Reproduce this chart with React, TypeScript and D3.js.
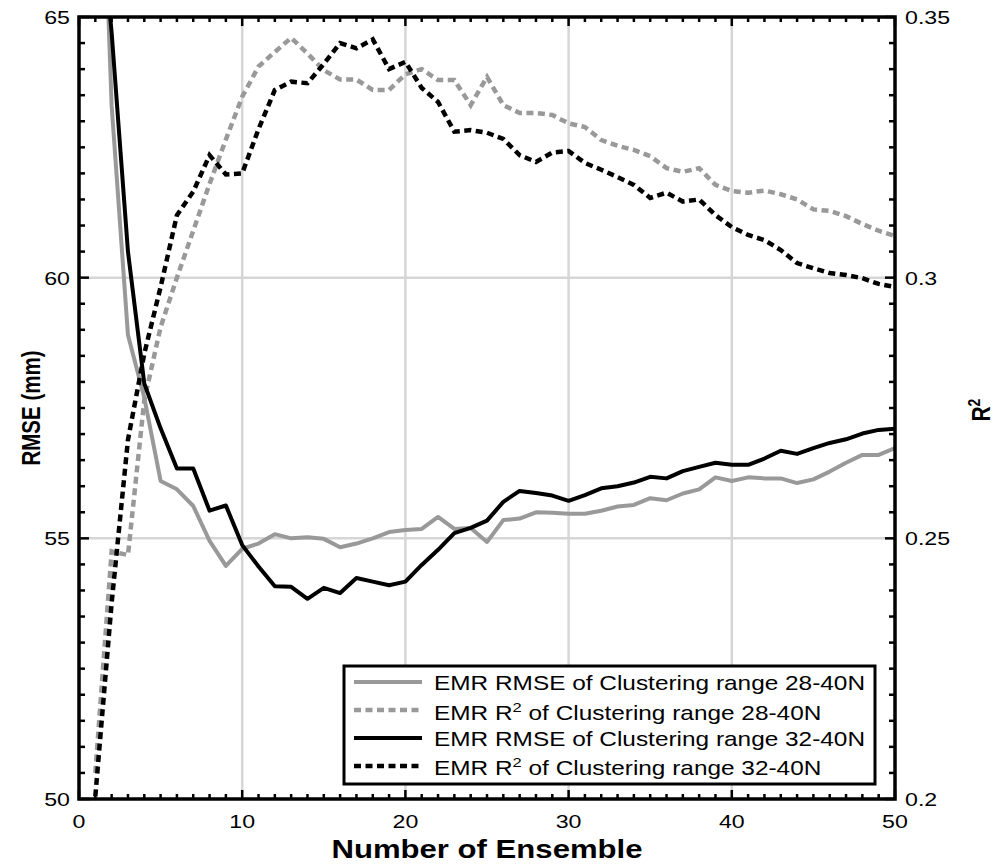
import React from 'react';
import * as d3 from 'd3';

const ensemble = [1,2,3,4,5,6,7,8,9,10,11,12,13,14,15,16,17,18,19,20,21,22,23,24,25,26,27,28,29,30,31,32,33,34,35,36,37,38,39,40,41,42,43,44,45,46,47,48,49,50];

const rmse28 = [72,63.3,58.9,57.7,56.1,55.94,55.62,54.95,54.47,54.8,54.9,55.08,55.0,55.02,54.99,54.83,54.9,55.0,55.12,55.16,55.18,55.41,55.18,55.2,54.93,55.35,55.38,55.5,55.49,55.47,55.47,55.53,55.61,55.64,55.77,55.73,55.86,55.94,56.17,56.1,56.17,56.15,56.15,56.06,56.13,56.28,56.45,56.6,56.6,56.73];

const rmse32 = [68,64.7,60.5,57.97,57.11,56.34,56.34,55.53,55.63,54.87,54.46,54.08,54.07,53.84,54.05,53.95,54.24,54.17,54.1,54.17,54.49,54.78,55.1,55.2,55.34,55.7,55.91,55.87,55.82,55.72,55.83,55.96,56.0,56.07,56.18,56.15,56.29,56.37,56.45,56.41,56.41,56.53,56.68,56.62,56.73,56.83,56.9,57.01,57.08,57.1];

const r2_28 = [0.205,0.2475,0.2468,0.2765,0.2905,0.300,0.309,0.318,0.3265,0.3347,0.3405,0.3433,0.346,0.343,0.3398,0.338,0.338,0.336,0.336,0.339,0.340,0.3379,0.3379,0.3331,0.3385,0.3331,0.3316,0.3316,0.3312,0.3296,0.3289,0.3264,0.3253,0.3245,0.3233,0.321,0.3203,0.321,0.3178,0.3166,0.3163,0.3167,0.316,0.315,0.3131,0.3128,0.3118,0.3103,0.309,0.308];

const r2_32 = [0.2005,0.2376,0.2689,0.2854,0.2982,0.312,0.3165,0.3235,0.3198,0.320,0.3285,0.336,0.3376,0.3373,0.341,0.345,0.344,0.3457,0.340,0.3414,0.3364,0.3337,0.328,0.3283,0.3278,0.3266,0.3235,0.3222,0.324,0.3243,0.322,0.3207,0.3193,0.3178,0.3153,0.3163,0.3146,0.315,0.312,0.3097,0.3082,0.3072,0.3053,0.3028,0.3018,0.3009,0.3005,0.2999,0.2988,0.2982];

const xTicks = [0, 10, 20, 30, 40, 50];
const yLeftTicks = [50, 55, 60, 65];
const yRightTicks = [0.2, 0.25, 0.3, 0.35];
const yRightLabels = ['0.2', '0.25', '0.3', '0.35'];

const legendItems = [
  { pre: 'EMR RMSE', sup: '', post: ' of Clustering range 28-40N', color: '#999999', dash: '' },
  { pre: 'EMR R', sup: '2', post: ' of Clustering range 28-40N', color: '#999999', dash: '7 4.5' },
  { pre: 'EMR RMSE', sup: '', post: ' of Clustering range 32-40N', color: '#000000', dash: '' },
  { pre: 'EMR R', sup: '2', post: ' of Clustering range 32-40N', color: '#000000', dash: '7 4.5' },
];

const W = 1000, H = 865;
const L = 79, R = 895, T = 17, B = 799;
const SX = 1.22;
const FONT = '"Liberation Sans", Arial, Helvetica, sans-serif';

const x = d3.scaleLinear().domain([0, 50]).range([L, R]);
const yL = d3.scaleLinear().domain([50, 65]).range([B, T]);
const yR = d3.scaleLinear().domain([0.2, 0.35]).range([B, T]);

function SText(props: any) {
  const { x, y, anchor = 'middle', size = 19, weight = 'normal', rotate = 0, children } = props;
  return (
    <text
      transform={`translate(${x},${y}) scale(${SX},1)${rotate ? ` rotate(${rotate})` : ''}`}
      textAnchor={anchor}
      fontSize={size}
      fontWeight={weight}
      fontFamily={FONT}
      fill="#000"
    >
      {children}
    </text>
  );
}

export default function App() {
  const lineL = d3.line<number>().x((_, i) => x(ensemble[i])).y((d) => yL(d));
  const lineR = d3.line<number>().x((_, i) => x(ensemble[i])).y((d) => yR(d));

  const xMinor = d3.range(0, 51, 1);
  const yMinor = d3.range(50, 65.001, 0.5);

  const lgX = 344, lgY = 666, lgW = 531, lgH = 118;
  const lineRows = [682, 710, 738, 766];
  const textRows = [690, 719.5, 745.5, 775];

  return (
    <svg width={W} height={H} style={{ position: 'absolute', left: 0, top: 0, background: '#fff' }}>
      <defs>
        <clipPath id="plotClip">
          <rect x={L} y={T} width={R - L} height={B - T} />
        </clipPath>
      </defs>
      <rect x={0} y={0} width={W} height={H} fill="#fff" />
      {/* grid */}
      <g stroke="#d6d6d6" strokeWidth={2.5}>
        {xTicks.slice(1, -1).map((t) => (
          <line key={'gx' + t} x1={x(t)} x2={x(t)} y1={T} y2={B} />
        ))}
        {yLeftTicks.slice(1, -1).map((t) => (
          <line key={'gy' + t} x1={L} x2={R} y1={yL(t)} y2={yL(t)} />
        ))}
      </g>
      {/* data */}
      <g clipPath="url(#plotClip)" fill="none">
        <path d={lineL(rmse28) || ''} stroke="#999999" strokeWidth={4} strokeLinejoin="round" />
        <path d={lineR(r2_28) || ''} stroke="#999999" strokeWidth={4.5} strokeDasharray="7 4.5" />
        <path d={lineL(rmse32) || ''} stroke="#000" strokeWidth={4} strokeLinejoin="round" />
        <path d={lineR(r2_32) || ''} stroke="#000" strokeWidth={4.5} strokeDasharray="7 4.5" />
      </g>
      {/* ticks */}
      <g stroke="#000" strokeWidth={2.5}>
        {xMinor.map((t) => {
          const major = t % 10 === 0;
          const len = major ? 9 : 5;
          return (
            <g key={'xt' + t}>
              <line x1={x(t)} x2={x(t)} y1={B} y2={B - len} />
              <line x1={x(t)} x2={x(t)} y1={T} y2={T + len} />
            </g>
          );
        })}
        {yMinor.map((t, i) => {
          const major = i % 10 === 0;
          const len = major ? 10 : 6;
          return (
            <g key={'yt' + i}>
              <line x1={L} x2={L + len} y1={yL(t)} y2={yL(t)} />
              <line x1={R} x2={R - len} y1={yL(t)} y2={yL(t)} />
            </g>
          );
        })}
      </g>
      {/* box */}
      <rect x={L} y={T} width={R - L} height={B - T} fill="none" stroke="#000" strokeWidth={3.5} />
      {/* tick labels */}
      {xTicks.map((t) => (
        <SText key={'xl' + t} x={x(t)} y={828} anchor="middle" size={19}>{String(t)}</SText>
      ))}
      {yLeftTicks.map((t) => (
        <SText key={'yl' + t} x={70} y={yL(t) + 7} anchor="end" size={19}>{String(t)}</SText>
      ))}
      {yRightTicks.map((t, i) => (
        <SText key={'yr' + t} x={905} y={yR(t) + 7} anchor="start" size={19}>{yRightLabels[i]}</SText>
      ))}
      {/* axis titles */}
      <SText x={487} y={858} anchor="middle" size={25.5} weight="bold">Number of Ensemble</SText>
      <SText x={40} y={408} anchor="middle" size={20.5} weight="bold" rotate={-90}>RMSE (mm)</SText>
      <SText x={990} y={410} anchor="middle" size={20.5} weight="bold" rotate={-90}>
        R<tspan dy={-8} fontSize={14}>2</tspan>
      </SText>
      {/* legend */}
      <rect x={lgX} y={lgY} width={lgW} height={lgH} fill="#fff" stroke="#000" strokeWidth={3} />
      {legendItems.map((it, i) => (
        <g key={'lg' + i}>
          <line x1={354} x2={422} y1={lineRows[i]} y2={lineRows[i]} stroke={it.color}
            strokeWidth={it.dash ? 4.5 : 4} strokeDasharray={it.dash || undefined} />
          <SText x={434} y={textRows[i]} anchor="start" size={20}>
            {it.pre}
            {it.sup ? <tspan dy={-8} fontSize={13.5}>{it.sup}</tspan> : null}
            {it.sup ? <tspan dy={8}>{it.post}</tspan> : it.post}
          </SText>
        </g>
      ))}
    </svg>
  );
}
